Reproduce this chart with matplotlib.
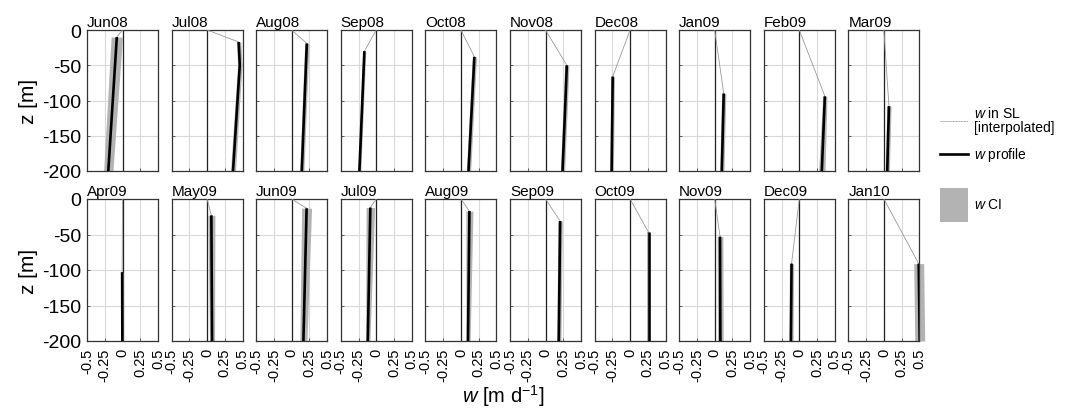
import matplotlib
matplotlib.use("Agg")
import math
import matplotlib.pyplot as plt
from matplotlib.lines import Line2D
from matplotlib.patches import Rectangle

plt.rcParams['font.family'] = ['Liberation Sans', 'DejaVu Sans']
plt.rcParams['mathtext.fontset'] = 'custom'
plt.rcParams['mathtext.it'] = 'Liberation Sans:italic'
plt.rcParams['mathtext.rm'] = 'Liberation Sans'

months = ["Jun08", "Jul08", "Aug08", "Sep08", "Oct08", "Nov08", "Dec08", "Jan09", "Feb09", "Mar09",
          "Apr09", "May09", "Jun09", "Jul09", "Aug09", "Sep09", "Oct09", "Nov09", "Dec09", "Jan10"]
# depth of surface-layer base (top of profile) [m]
z_top = [-10, -17, -19, -30, -38, -50, -66, -90, -94, -108,
         -103, -23, -13, -12, -17, -31, -47, -53, -91, -91]
# w at top of profile and at -200 m [m/d]
w_top = [-0.08, 0.445, 0.213, -0.168, 0.19, 0.30, -0.245, 0.127, 0.36, 0.071,
         -0.005, 0.06, 0.21, -0.084, 0.12, 0.206, 0.26, 0.075, -0.109, 0.49]
w_bot = [-0.20, 0.365, 0.142, -0.238, 0.107, 0.24, -0.26, 0.10, 0.317, 0.047,
         -0.002, 0.07, 0.165, -0.12, 0.10, 0.187, 0.26, 0.08, -0.118, 0.505]
# intermediate profile point (NaN = straight profile)
nan = float('nan')
z_knee = [nan, -50, nan, nan, nan, -90, nan, nan, nan, nan,
          nan, nan, nan, nan, nan, nan, nan, nan, nan, nan]
w_knee = [nan, 0.46, nan, nan, nan, 0.285, nan, nan, nan, nan,
          nan, nan, nan, nan, nan, nan, nan, nan, nan, nan]
# confidence-interval half widths at top and bottom [m/d]
ci_top = [0.08, 0.03, 0.03, 0.02, 0.03, 0.03, 0.025, 0.03, 0.03, 0.03,
          0.015, 0.05, 0.07, 0.06, 0.05, 0.03, 0.02, 0.04, 0.03, 0.07]
ci_bot = [0.065, 0.035, 0.03, 0.02, 0.03, 0.03, 0.025, 0.03, 0.045, 0.03,
          0.015, 0.035, 0.05, 0.03, 0.03, 0.03, 0.02, 0.04, 0.03, 0.07]

xticks = [-0.5, -0.25, 0, 0.25, 0.5]
xticklabels = ["-0.5", "-0.25", "0", "0.25", "0.5"]
yticks = [0, -50, -100, -150, -200]
z_bottom = -200

W, H = 1067, 410
fig = plt.figure(figsize=(W / 100, H / 100), dpi=100)

left0, step, aw = 87, 84.6, 71
rows = [(31, 172), (200, 342)]

for i, m in enumerate(months):
    r, c = divmod(i, 10)
    x0 = left0 + c * step
    yt, yb = rows[r]
    ax = fig.add_axes([x0 / W, 1 - yb / H, aw / W, (yb - yt) / H])
    ax.set_xlim(-0.5, 0.5)
    ax.set_ylim(-200, 0)
    ax.set_xticks(xticks)
    ax.set_yticks(yticks)
    ax.grid(True, color='#d9d9d9', lw=0.8)
    ax.set_axisbelow(True)
    ax.axvline(0, color='#222222', lw=0.9, zorder=1)

    zs = [z_top[i]]
    ws = [w_top[i]]
    lo = [w_top[i] - ci_top[i]]
    hi = [w_top[i] + ci_top[i]]
    if not math.isnan(z_knee[i]):
        f = (z_top[i] - z_knee[i]) / (z_top[i] - z_bottom)
        ci_k = ci_top[i] + f * (ci_bot[i] - ci_top[i])
        zs.append(z_knee[i])
        ws.append(w_knee[i])
        lo.append(w_knee[i] - ci_k)
        hi.append(w_knee[i] + ci_k)
    zs.append(z_bottom)
    ws.append(w_bot[i])
    lo.append(w_bot[i] - ci_bot[i])
    hi.append(w_bot[i] + ci_bot[i])

    # CI band
    ax.fill_betweenx(zs, lo, hi, color='#b3b3b3', lw=0, zorder=2, clip_on=False)
    # interpolated SL
    ax.plot([0, w_top[i]], [0, z_top[i]], color='#999999', lw=0.6, zorder=3)
    # profile
    ax.plot(ws, zs, color='black', lw=1.9, zorder=4, solid_capstyle='butt')
    ax.tick_params(direction='in', length=2.5, width=0.6, color='#444444')
    ax.tick_params(axis='y', pad=4)
    ax.tick_params(axis='x', pad=5)
    for s in ax.spines.values():
        s.set_color('#333333')
        s.set_linewidth(0.9)
    if c == 0:
        ax.set_yticklabels([str(v) for v in yticks], fontsize=14)
        ax.set_ylabel("z [m]", fontsize=15, labelpad=3)
    else:
        ax.set_yticklabels([])
    if r == 1:
        ax.set_xticklabels(xticklabels, rotation=90, fontsize=10.5)
    else:
        ax.set_xticklabels([])
    ax.text(0.0, 1.01, m, transform=ax.transAxes, ha='left', va='bottom', fontsize=11)

fig.text(503 / W, 1 - 396 / H, r"$\it{w}$ [m d$^{-1}$]", ha='center', va='center', fontsize=14.5)

# legend
lg = fig.add_axes([0, 0, 1, 1], facecolor='none')
lg.set_xlim(0, W)
lg.set_ylim(H, 0)
lg.axis('off')
lg.add_line(Line2D([940, 968], [122, 122], color='#999999', lw=0.7, linestyle=(0, (1, 0.6))))
lg.text(974, 114, r"$\it{w}$ in SL", fontsize=10, va='center', ha='left')
lg.text(974, 128, "[interpolated]", fontsize=10, va='center', ha='left')
lg.add_line(Line2D([940, 968], [155, 155], color='black', lw=1.9))
lg.text(974, 155, r"$\it{w}$ profile", fontsize=10, va='center', ha='left')
lg.add_patch(Rectangle((940, 189), 28, 34, color='#b3b3b3', lw=0))
lg.text(974, 205, r"$\it{w}$ CI", fontsize=10, va='center', ha='left')

fig.savefig("out.png", dpi=100)
